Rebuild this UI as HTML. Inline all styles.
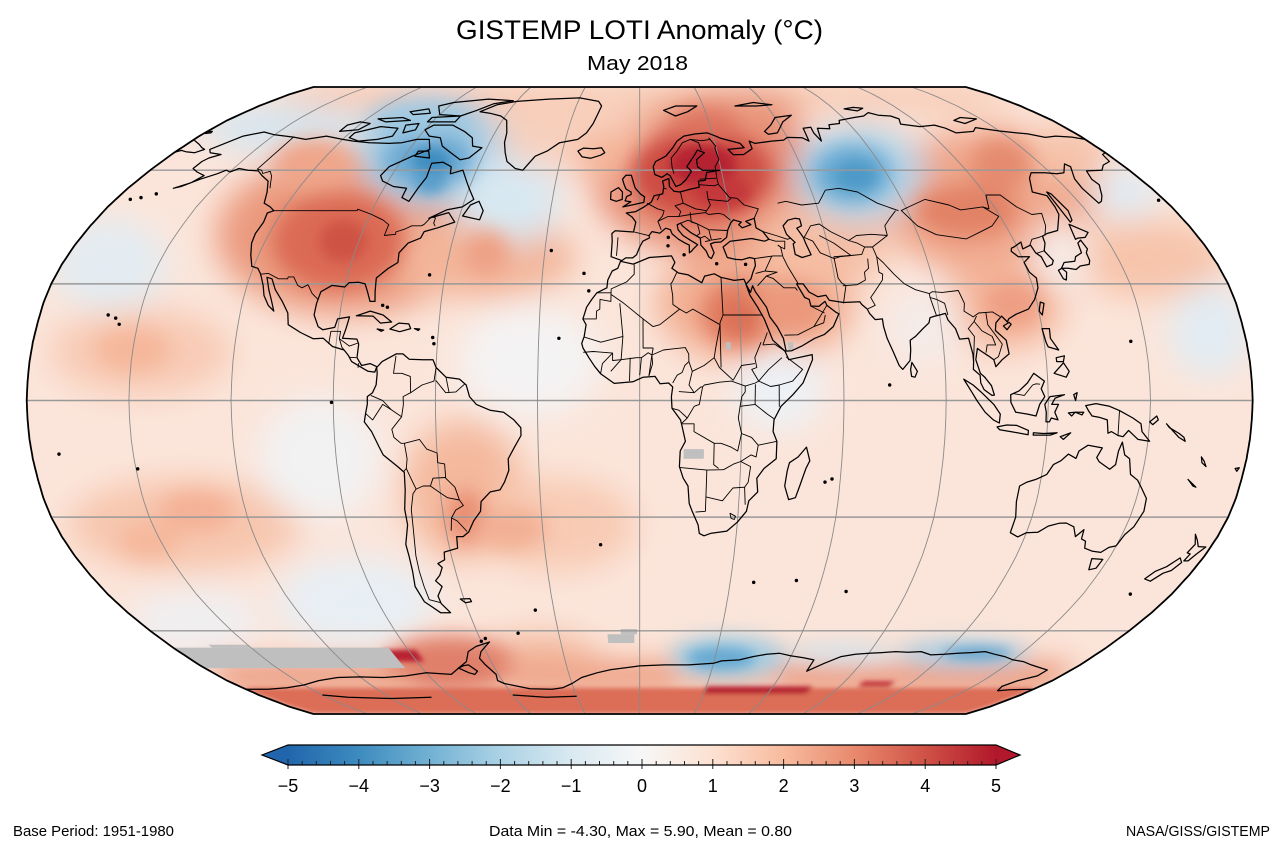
<!DOCTYPE html>
<html><head><meta charset="utf-8">
<style>
html,body{margin:0;padding:0;background:#fff;overflow:hidden;}
svg{display:block;}
text{font-family:"Liberation Sans",Arial,sans-serif;fill:#000;}
</style></head>
<body>
<svg id="s" width="1280" height="849" viewBox="0 0 1280 849" xmlns="http://www.w3.org/2000/svg">
<defs>
 <filter id="bL" filterUnits="userSpaceOnUse" x="0" y="0" width="1280" height="849"><feGaussianBlur stdDeviation="16"/></filter>
 <filter id="bM" filterUnits="userSpaceOnUse" x="0" y="0" width="1280" height="849"><feGaussianBlur stdDeviation="10"/></filter>
 <filter id="bS" filterUnits="userSpaceOnUse" x="0" y="0" width="1280" height="849"><feGaussianBlur stdDeviation="6"/></filter>
 <filter id="bX" filterUnits="userSpaceOnUse" x="0" y="0" width="1280" height="849"><feGaussianBlur stdDeviation="2.5"/></filter>
 <linearGradient id="cb" x1="0" x2="1" y1="0" y2="0">
  <stop offset="0" stop-color="#2166ac"/>
  <stop offset="0.1" stop-color="#3d8bbf"/>
  <stop offset="0.2" stop-color="#72b1d3"/>
  <stop offset="0.3" stop-color="#abd2e5"/>
  <stop offset="0.4" stop-color="#d9e9f1"/>
  <stop offset="0.5" stop-color="#f7f7f7"/>
  <stop offset="0.6" stop-color="#fce1d1"/>
  <stop offset="0.7" stop-color="#f8bb9e"/>
  <stop offset="0.8" stop-color="#e8896d"/>
  <stop offset="0.9" stop-color="#cf5246"/>
  <stop offset="1" stop-color="#b2182b"/>
 </linearGradient>
 <clipPath id="mc"><path id="mcp" d=""/></clipPath>
</defs>

<g clip-path="url(#mc)">
 <path id="base" fill="#fbe5da"/>
 <g id="gL" filter="url(#bL)"></g>
 <g id="gM" filter="url(#bM)"></g>
 <g id="gS" filter="url(#bS)"></g>
 <g id="gX" filter="url(#bX)"></g>
 <g id="gG" fill="#bfbfbf"></g>
 <g id="grid" fill="none"></g>
 <g id="bord" fill="none" stroke="#000" stroke-width="0.9" stroke-linejoin="round"></g>
 <g id="coast" fill="none" stroke="#000" stroke-width="1.25" stroke-linejoin="round"></g>
</g>
<path id="outline" fill="none" stroke="#000" stroke-width="1.8"/>

<!-- colorbar -->
<rect x="288" y="745" width="708" height="20" fill="url(#cb)"/>
<polygon points="288,745 262,755 288,765" fill="#2166ac"/>
<polygon points="996,745 1020,755 996,765" fill="#b2182b"/>
<g id="ticks" stroke="#222" stroke-width="1"></g>
<path d="M288,745 L996,745 L1020,755 L996,765 L288,765 L262,755 Z" fill="none" stroke="#000" stroke-width="1.2"/>
<g font-size="18" text-anchor="middle">
 <text x="288" y="792">−5</text>
 <text x="358.8" y="792">−4</text>
 <text x="429.6" y="792">−3</text>
 <text x="500.4" y="792">−2</text>
 <text x="571.2" y="792">−1</text>
 <text x="642" y="792">0</text>
 <text x="712.8" y="792">1</text>
 <text x="783.6" y="792">2</text>
 <text x="854.4" y="792">3</text>
 <text x="925.2" y="792">4</text>
 <text x="996" y="792">5</text>
</g>

<text x="456" y="39" font-size="27" textLength="367" lengthAdjust="spacingAndGlyphs">GISTEMP LOTI Anomaly (°C)</text>
<text x="587" y="70" font-size="20" textLength="101" lengthAdjust="spacingAndGlyphs">May 2018</text>
<text x="13" y="836" font-size="15" textLength="161" lengthAdjust="spacingAndGlyphs">Base Period: 1951-1980</text>
<text x="489" y="836" font-size="15" textLength="303" lengthAdjust="spacingAndGlyphs">Data Min = -4.30, Max = 5.90, Mean = 0.80</text>
<text x="1126" y="836" font-size="15" textLength="144" lengthAdjust="spacingAndGlyphs">NASA/GISS/GISTEMP</text>
</svg>

<script>
(function(){
var NS='http://www.w3.org/2000/svg';
var CX=639.7,W=613,CY=400.5,H=313.5;
var Xt=[1,0.9986,0.9954,0.99,0.9822,0.973,0.96,0.9427,0.9216,0.8962,0.8679,0.835,0.7986,0.7597,0.7186,0.6732,0.6213,0.5722,0.5322];
var Yt=[0,0.062,0.124,0.186,0.248,0.31,0.372,0.434,0.4958,0.5571,0.6176,0.6769,0.7346,0.7903,0.8435,0.8936,0.9394,0.9761,1];
function itp(t,a){a=Math.abs(a);if(a>90)a=90;var i=Math.min(Math.floor(a/5),17);var f=(a-i*5)/5;return t[i]+(t[i+1]-t[i])*f;}
function P(lon,lat){return [CX+W*itp(Xt,lat)*lon/180, CY-H*(lat<0?-1:1)*itp(Yt,lat)];}
function pathOf(pts,close){var d='';for(var i=0;i<pts.length;i++){var q=P(pts[i][0],pts[i][1]);d+=(i?'L':'M')+q[0].toFixed(1)+','+q[1].toFixed(1);}return d+(close?'Z':'');}
function add(gid,d,attrs){var e=document.createElementNS(NS,'path');e.setAttribute('d',d);if(attrs)for(var k in attrs)e.setAttribute(k,attrs[k]);document.getElementById(gid).appendChild(e);return e;}
function boxPts(l1,l2,a1,a2){var p=[],s=2,x,y;
 for(x=l1;x<l2;x+=s)p.push([x,a1]);
 for(y=a1;y<a2;y+=s)p.push([l2,y]);
 for(x=l2;x>l1;x-=s)p.push([x,a2]);
 for(y=a2;y>a1;y-=s)p.push([l1,y]);
 return p;}

// outline
var o=[],i;
for(i=90;i>=-90;i-=1)o.push([-180,i]);
for(i=-180;i<=180;i+=5)o.push([i,-90]);
for(i=-90;i<=90;i+=1)o.push([180,i]);
for(i=180;i>=-180;i-=5)o.push([i,90]);
var od=pathOf(o,true);
document.getElementById('mcp').setAttribute('d',od);
document.getElementById('base').setAttribute('d',od);
document.getElementById('outline').setAttribute('d',od);

// blobs [lon1,lon2,lat1,lat2,color,box?]
var L=[
[-180,180,79,90,'#f6c1a6',1],
[-130,-60,25,60,'#eb9a7e'],
[-75,-25,28,46,'#f3b59a'],
[-10,60,40,75,'#e68c73'],
[10,60,12,38,'#f2ae92'],
[40,75,30,50,'#f5bea4'],
[88,150,35,68,'#efa68a'],
[95,125,15,35,'#f4b69b'],
[140,180,28,45,'#f7c4ab'],
[-170,-125,3,22,'#f8cbb5'],
[-170,-110,-42,-22,'#f7c6ae'],
[-68,-38,-38,-8,'#f4b99e'],
[-45,-5,-42,-22,'#f8cbb4'],
[60,100,48,70,'#b3d4e8'],
[-105,-55,52,78,'#a4cce3'],
[-60,-30,42,62,'#d8e8f2'],
[-180,-120,66,79,'#d6e6f0'],
[-50,-15,-2,22,'#f4f3f3'],
[-120,-75,-62,-42,'#e8eff4'],
[-110,-80,-28,-2,'#f2f2f3'],
[30,52,-6,12,'#edf1f5'],
[160,180,8,28,'#e2ecf3'],
[160,180,48,60,'#e1ebf2'],
[-180,-150,25,45,'#e3ecf2'],
[-60,-20,-75,-62,'#f3b79c'],
[125,140,30,45,'#f6ece8'],
[-25,5,58,72,'#f4b59a'],
[-55,-25,62,80,'#f7d0bd'],
[20,70,72,85,'#e9967c'],
[150,180,58,72,'#f6c3aa'],
[75,95,10,28,'#f5ebe7'],
[-180,-140,-65,-50,'#f0eff1'],
[-180,180,-77,-69,'#efa68b',1]
];
var M=[
[-115,-78,30,52,'#db6a54'],
[-135,-108,55,68,'#efa68a'],
[-95,-65,56,70,'#6aa8d2'],
[-115,-75,70,80,'#9fc9e2'],
[-55,-42,33,43,'#eea084'],
[0,45,48,70,'#cd4c43'],
[15,40,68,78,'#dd725e'],
[20,40,15,30,'#e07c61'],
[35,55,18,30,'#eb987c'],
[65,90,52,66,'#65a7d1'],
[95,125,43,55,'#e28266'],
[125,145,55,68,'#e58b70'],
[105,120,20,30,'#ee9e83'],
[-160,-140,8,18,'#f5b79b'],
[-145,-125,-33,-24,'#f4b196'],
[-162,-145,-40,-32,'#f5b89c'],
[-58,-48,-36,-24,'#e88a6e'],
[-50,-30,-38,-28,'#f2b094'],
[-100,-55,-77,-62,'#e0806a'],
[15,55,-73,-62,'#a3cde3'],
[105,150,-70,-63,'#abd0e5'],
[60,100,-69,-64,'#d4e7f1'],
[60,180,-77,-71,'#eb9f84',1],
[-180,-100,-77,-71,'#ec9f84',1],
[-55,15,-77,-71,'#eea489',1]
];
var S=[
[-102,-88,36,46,'#cf5345'],
[-85,-72,59,66,'#3e8cc0'],
[-80,-70,54,60,'#5a9ecb'],
[12,35,56,67,'#b52430'],
[20,38,50,58,'#c4383a'],
[72,85,55,62,'#4e9ac8'],
[20,45,-71,-65,'#68a9d2'],
[120,145,-68,-65,'#5b9fcb'],
[25,35,18,25,'#db7258']
];
var X=[
[-180,180,-90,-77.5,'#dc6d56',1],
[30,78,-79.5,-77,'#b41d2d',1],
[98,112,-77,-75.2,'#bf2a34',1],
[-100,-87,-69,-65.5,'#b82330',1]
];
function blobs(list,g,sc){for(var i=0;i<list.length;i++){var b=list[i];
 if(b[5]){add(g,pathOf(boxPts(b[0],b[1],b[2],b[3]),true),{fill:b[4]});continue;}
 var c=P((b[0]+b[1])/2,(b[2]+b[3])/2),p1=P(b[0],b[2]),p2=P(b[1],b[3]);
 var p3=P(b[0],(b[2]+b[3])/2),p4=P(b[1],(b[2]+b[3])/2);
 var rx=Math.abs(p4[0]-p3[0])/2*sc, ry=Math.abs(p2[1]-p1[1])/2*sc;
 var e=document.createElementNS(NS,'ellipse');e.setAttribute('cx',c[0].toFixed(1));e.setAttribute('cy',c[1].toFixed(1));
 e.setAttribute('rx',rx.toFixed(1));e.setAttribute('ry',ry.toFixed(1));e.setAttribute('fill',b[4]);document.getElementById(g).appendChild(e);}}
blobs(L,'gL',1.2);blobs(M,'gM',1.15);blobs(S,'gS',1.1);blobs(X,'gX',1);
// gray missing data
var G=[[-180,-97,-71,-64.8],[-165,-150,-64.8,-64],[-12,-2,-63.5,-61],[-7,-1,-61,-59.5],[13,19,-15,-12.5],[25.5,27,13,15],[44,45.5,13,15]];
for(i=0;i<G.length;i++){var b=G[i];add('gG',pathOf(boxPts(b[0],b[1],b[2],b[3]),true));}

// grid
for(var lat=-60;lat<=60;lat+=30){var a=P(-180,lat),c=P(180,lat);add('grid','M'+a[0]+','+a[1]+'L'+c[0]+','+c[1],{stroke:'#999',"stroke-width":'1.4'});}
for(var lon=-150;lon<=150;lon+=30){var pts=[];for(var la=-90;la<=90;la+=2)pts.push([lon,la]);add('grid',pathOf(pts,false),{stroke:'#8a8a8a',"stroke-width":'0.9'});}

// coastlines
var C=[
[[-168,66],[-162,70],[-156,71.3],[-150,70.4],[-141,69.7],[-135,69],[-128,70],[-120,69],[-115,68.5],[-108,68],[-100,67.8],[-95,68],[-90,69],[-85,69],[-82,66],[-87,64],[-93,61],[-94,58.5],[-92,57],[-87,55.5],[-82,55],[-82,52.5],[-79,51.5],[-78,55],[-77,58],[-78,62],[-74,62.3],[-70,61],[-69,59],[-65,60],[-62,57],[-60,55],[-57,52],[-60,50],[-65,49.2],[-70,47],[-64,48.5],[-61,46],[-66,44.5],[-70,43.5],[-70.5,41.8],[-74,40.5],[-76,38],[-75.5,35.5],[-78,34],[-81,31.5],[-80.5,28],[-80,25.5],[-81.5,25.5],[-82.8,28],[-84,30],[-86,30.4],[-89,30.3],[-90,29.2],[-94,29.6],[-97,28],[-97.5,25],[-97.7,22],[-96,19],[-94.5,18.2],[-91,18.8],[-90.5,21],[-87,21.5],[-87.6,18.5],[-88.3,16],[-84,15.8],[-83.3,14.5],[-83.5,11],[-82,9],[-79.5,9.5],[-77.5,8.7],[-78,7.3],[-80,7.5],[-81,8],[-85,10],[-86,11.5],[-87.5,13],[-91,13.9],[-94,16],[-97,15.9],[-101,17.5],[-105,19.5],[-105.7,22.5],[-108,25.5],[-111,28.5],[-113,31.3],[-114.7,31.7],[-113,28.5],[-111.5,26],[-110,23],[-112,24.5],[-114,27],[-115,29.5],[-116.5,31.8],[-117.2,32.7],[-118.5,34],[-120.6,34.5],[-122.5,37.5],[-124,40.5],[-124.5,43],[-124,46],[-124.7,48.4],[-123,49],[-125,50],[-128,51],[-130,54],[-133,57],[-137,58.5],[-140,59.8],[-144,60],[-148,60.5],[-150,59.5],[-152,60],[-154,59],[-158,57.5],[-162,55.5],[-164,55],[-160,56.5],[-158,58.5],[-162,59.5],[-165,60.5],[-165,62.5],[-164,63.5],[-161,64.5],[-166,65],[-168,66]],
[[-73,78],[-68,80.5],[-60,82],[-45,83],[-30,83.5],[-20,82],[-18,80],[-19,77],[-20,74],[-22,71],[-25,69],[-32,68],[-36,65.5],[-40,64],[-43,60],[-46,60.5],[-50,62.5],[-52,65],[-54,68],[-55,71],[-58,75],[-62,76.5],[-68,77.5],[-73,78]],
[[-62,66.5],[-66,67],[-68,69.5],[-73,71.5],[-80,73.5],[-88,73.5],[-90,72],[-86,70],[-81,69.5],[-78,67],[-73,65],[-68,63],[-65,63.5],[-62,66.5]],
[[-118,71],[-110,73],[-102,72.5],[-101,70],[-106,69],[-113,68.5],[-118,69.5],[-118,71]],
[[-90,77],[-80,76.5],[-75,78.5],[-70,81],[-62,82.3],[-75,83],[-90,81.5],[-95,80],[-90,77]],
[[-125,71.5],[-118,72],[-116,74],[-121,74.5],[-125,73.5],[-125,71.5]],
[[-92,76],[-80,76.5],[-80,74.5],[-92,74.5],[-92,76]],
[[-115,75.5],[-105,76],[-100,75],[-110,74.5],[-115,75.5]],
[[-105,78],[-98,79],[-95,77.5],[-102,77],[-105,78]],
[[-100,73.5],[-95,74],[-94,72],[-98,71],[-100,73.5]],
[[-86,64],[-80,63.5],[-82,65.5],[-86,65.5],[-86,64]],
[[-59,47.6],[-53,46.6],[-52.6,49],[-55,51.5],[-57.5,50.5],[-59,47.6]],
[[-85,21.8],[-81,23],[-77,22],[-74.2,20.2],[-77.5,19.9],[-80,21.7],[-85,21.8]],
[[-74.5,18.4],[-72,19.9],[-69,19.7],[-68.3,18.5],[-71.5,17.7],[-74.5,18.4]],
[[-78.3,18.4],[-76.3,18.1],[-77,17.8],[-78.3,18.4]],
[[-67.2,18.5],[-65.6,18.4],[-66,18],[-67.2,18.5]],
[[-77.5,8.5],[-76,10],[-72,12],[-70,12],[-68,10.6],[-64,10.5],[-61,10.5],[-60,8.5],[-57,6],[-53,5.5],[-51,4],[-50,1],[-48,-1],[-44,-2.5],[-40,-3],[-37,-5],[-35,-7],[-35,-9],[-37,-12],[-39,-15],[-39,-18],[-40.5,-21],[-42,-23],[-45,-23.5],[-48,-26],[-48.5,-28.5],[-51,-31],[-53,-33.8],[-55,-35],[-57,-35],[-57.5,-38],[-62,-39],[-62.5,-41],[-65,-42],[-64,-43],[-65.5,-45],[-67.5,-46.5],[-66,-48],[-68.5,-50.5],[-68.5,-52.5],[-66.5,-55],[-70,-55],[-72,-53.5],[-74,-52],[-75,-48],[-74,-44],[-73.5,-40],[-73.5,-37],[-71.5,-32],[-71.5,-28],[-70.5,-23],[-70.2,-18.5],[-72,-17],[-76,-14],[-77,-12],[-79,-8],[-81,-5.5],[-80.5,-3],[-80,-1],[-80,1],[-78.5,2],[-77.5,4],[-77.3,7],[-77.5,8.5]],
[[-61.3,-51.3],[-58,-51.2],[-57.8,-52],[-60,-52.3],[-61.3,-51.3]],
[[-6,35.8],[-2,35.1],[3,36.8],[10,37.2],[11,35.5],[10,34],[12,32.8],[15,32.3],[19,30.3],[20,32],[23,32.6],[25,31.7],[29,30.9],[32,31.2],[32.5,30],[32.6,29.5],[33.5,27],[35.5,24],[37.3,21],[38.5,18],[39.5,15.5],[43,12.7],[44,10.5],[51,11.8],[51,10.5],[48,4.5],[45,1.5],[41.5,-1.5],[39.5,-5],[39.3,-8],[40.5,-10.5],[40.5,-15],[37,-17.5],[35,-20],[35.5,-23.5],[33,-25.8],[32.5,-28.5],[30,-31.3],[27,-33.6],[22,-34.2],[20,-34.8],[18.5,-34.2],[18,-32],[16,-28.5],[15,-26.5],[14.5,-22],[13,-20],[11.8,-17],[12,-13],[13.5,-10.5],[12.3,-6],[12,-5],[9.5,-2],[9.3,1],[9.7,3.5],[8.5,4.5],[6,4.3],[4.5,6.2],[1,6],[-2,4.8],[-7.5,4.4],[-11.5,6.9],[-13.3,8.8],[-15,11],[-16.8,13.5],[-17.2,14.7],[-16.5,16.5],[-16,19.5],[-17,21],[-16,24],[-14.5,26],[-13,27.7],[-10,29],[-9.8,31],[-8.5,33.3],[-6.8,34],[-6,35.8]],
[[49.3,-12],[50.5,-15.5],[49.5,-17.5],[48,-22],[47,-25],[45,-25.5],[43.5,-22],[44,-18],[44.5,-16],[47,-14.5],[49.3,-12]],
[[-5.6,36],[-9,37],[-8.8,41],[-9,43],[-8,43.7],[-2,43.4],[-1.3,46],[-2.5,47.3],[-4.5,48.4],[-1.5,48.7],[1.5,50],[4,51.3],[5,53],[8,53.5],[8.5,55.5],[8.2,57],[10.5,57.7],[10.5,55.5],[12,54.2],[14,54],[18,54.8],[21,55.3],[21,57],[23.5,57.2],[24.5,59.4],[29.5,60],[23,60],[21.5,61],[21.5,63],[25,65],[22.5,65.8],[21,64.3],[17.5,61],[19,59.7],[16.5,57.3],[14.5,56],[12.8,55.5],[11,58.5],[10,59],[8,58],[5.5,58.8],[5,61],[6,62.5],[10,64],[13,66.5],[15,68.5],[18,70],[23,70.7],[28,71],[31,70],[33,69.3],[40,67.8],[41,66.5],[34.5,66],[36,64.4],[40,64.5],[44,66.2],[44,68.5],[46,67.8],[53,68.5],[58,68.8],[60,69.6],[66,69.5],[68,68.5],[69,72.5],[72.5,72.8],[72,71],[73,68.5],[75,72.5],[80,72.3],[81,73.6],[86,74],[87,75],[95,76],[100,76.5],[104,77.7],[107,76.8],[112,76.5],[114,75.5],[112,73.8],[119,73],[126,73.5],[129,72.5],[131,71],[139,71.5],[142,72.7],[150,71.6],[156,71],[160,70.7],[165,69.6],[170,70],[176,69.7],[180,69],[180,65],[178,64.5],[177,62.5],[173,61.5],[170,60],[164,59.8],[162.5,57.5],[163,56],[160,53],[158,51.5],[156.5,51],[155.6,55],[156.5,57.6],[160,61],[159,61.8],[155,59.3],[152,59],[148,59.3],[143,59.3],[140.5,57.8],[137,54],[141,53],[140.5,50],[140,48],[136,43.8],[132,43],[130,42.3],[129.5,40.5],[128,38.5],[129.4,36],[128.5,35],[126.5,34.4],[126.2,37],[125,38],[124.5,40],[121.5,39],[122,40.8],[119,39.5],[118,39.2],[117.5,38.4],[119,37],[122.5,37],[120,35.5],[120.5,33],[122,31.5],[121.5,29],[119.5,26],[117,23.5],[113,22.2],[110.5,21],[110,20.2],[108.5,21.7],[106.5,20],[106,18],[108.8,15.5],[109.2,12],[107,10.5],[105,8.7],[104.5,10.5],[103,11.5],[101,12.7],[100,13.4],[99.2,10.5],[100.3,7],[101.5,6],[103.4,3.8],[104.2,1.4],[103.5,1.3],[101.2,2.8],[100.3,4.5],[100.2,6.5],[98.3,8],[98.5,10],[98.5,12],[97.7,16],[95,15.8],[94.2,18.5],[92.3,20.7],[91.8,22.4],[90,22],[88.5,21.7],[87,21.3],[86.5,20],[84.5,18.5],[82,16.5],[80.3,15.5],[80.2,13],[79.8,10.3],[77.5,8],[76.5,9],[75,12.5],[73.5,16],[72.8,19],[72.7,21],[70.5,20.8],[69,22.4],[68.5,23.5],[67,24.7],[66.5,25.4],[61.5,25.2],[57.3,25.8],[56.5,27.1],[54,26.7],[51.5,27.9],[50,30],[48,30],[50,26.5],[51.3,26],[51.6,24.3],[54,24.2],[56,25.5],[56.4,24.5],[58.8,22.8],[59.8,22.3],[57.8,19],[55,17],[52,16],[48,14],[45,12.8],[43.3,12.7],[42.7,16],[41,19],[39,21.5],[38.2,24],[35.2,28],[34.5,29.5],[33.7,27.8],[32.5,29.9],[34.2,31.3],[35,33],[36,34.7],[36,36.5],[34.5,36.8],[32,36.2],[30,36.3],[27.5,36.8],[26.5,39.5],[29,41],[31,41.2],[36,41.7],[40,41],[41.5,41.5],[40,43.5],[38,44.5],[38,47],[35,46.2],[36.5,45.3],[33.5,44.5],[32.5,45.3],[33.5,46],[31,46.6],[30,45.8],[28.7,44],[28,42],[26,40.8],[24,40.7],[22.6,40.3],[23.5,38],[22.5,36.5],[21.7,37],[21,38.5],[19.5,40],[19.5,41.8],[16.5,43.3],[14,45],[13.5,45.7],[12.3,45.3],[12.5,44],[14,42.5],[16,41.4],[18.5,40.1],[17,39],[16.5,38.5],[15.7,38],[15.8,40],[14.5,40.5],[12.5,41.5],[10.5,42.9],[10,44],[8.5,44.4],[6.5,43.1],[4,43.5],[3,42.5],[3.2,41.9],[1,41],[0,39.5],[-0.5,38.5],[-1,37.5],[-2.2,36.7],[-4.4,36.7],[-5.6,36]],
[[-180,68.9],[-175,67.5],[-172,66.5],[-170,66],[-172,65],[-176,65.3],[-178.5,65.7],[-180,65.2]],
[[47,45],[49,46.5],[51.5,47],[53,46.8],[53,45],[51.3,44.4],[52.7,42],[53,40.5],[54,37.5],[51,36.8],[49,37.6],[49,40.3],[49.7,40.7],[47.5,42.8],[47,45]],
[[-5.7,50],[1.4,51.2],[1.7,52.7],[0.3,53.4],[-1.5,55],[-2,56],[-3,58.6],[-5,58.6],[-6.2,57.5],[-5.5,56],[-4.8,54.8],[-3,54],[-3,53.3],[-4.5,52.8],[-5,51.6],[-3,51.4],[-5.7,50]],
[[-6,52],[-6,54],[-7.5,55.2],[-10,54],[-10,52],[-8,51.5],[-6,52]],
[[-24,65.5],[-22,66.4],[-18,66.2],[-15,66.5],[-13.5,65],[-15,64.3],[-18.7,63.4],[-22,63.8],[-24,65.5]],
[[11,78.5],[17,80],[27,80],[22,78],[16,76.5],[11,78.5]],
[[52,71.5],[56,73.5],[60,76],[68,76.8],[62,74.5],[57,71],[53,70.6],[52,71.5]],
[[45,80],[55,81.5],[63,80.5],[55,80],[45,80]],
[[95,79],[100,79.5],[104,79.2],[100,78.3],[95,79]],
[[137,75],[142,76],[148,75.5],[140,74],[137,75]],
[[-180,71.3],[-178,71.5],[-177.5,71],[-179.5,70.8]],
[[130.9,34],[132.5,35.5],[136,35.8],[137,37],[139.5,38],[140,40.5],[141.5,41.3],[142,39],[141,38],[140.8,36],[140,35],[137,34.6],[135.3,33.7],[133,34],[130.9,34]],
[[140,41.5],[141,45.4],[145.5,43.3],[143.5,42],[141,41.8],[140,41.5]],
[[129.7,33.5],[131,34],[132,33],[131,31],[130.2,31.3],[129.7,33.5]],
[[142,46],[142,54],[143,53.5],[144,49],[143,46.5],[142,46]],
[[120.1,23],[121,25.3],[122,25],[120.8,22],[120.1,23]],
[[108.6,19.2],[110.5,20.1],[111,19.6],[109.5,18.2],[108.6,19.2]],
[[79.8,8],[80.3,9.8],[81.8,7.5],[81,6],[80,6.2],[79.8,8]],
[[120,18.5],[122.2,18.5],[122,16],[124,13],[121,13.8],[120.5,15],[120,18.5]],
[[122,7],[125,9.7],[126.5,7.5],[125.5,6],[122,7]],
[[123,11],[125.5,11.5],[125,10],[123,10],[123,11]],
[[109,1.5],[111.5,2.5],[114,4.5],[116,7],[119,5],[118,3],[119,1],[117.5,-1],[116.5,-4],[114,-3.5],[110.5,-3],[109,-0.5],[109,1.5]],
[[95.3,5.5],[98,4],[100.5,2],[104,-1],[106,-3.5],[105.8,-5.8],[104,-5],[101.5,-3],[99,0],[97.5,2.3],[95.3,5.5]],
[[105.2,-6.8],[108,-6.3],[111,-6.4],[114.5,-7.7],[114.5,-8.8],[110,-8.1],[106,-7.5],[105.2,-6.8]],
[[116,-8.3],[119,-8.5],[123,-8.3],[121,-8.9],[116,-8.9],[116,-8.3]],
[[124,-9.3],[127,-8.3],[125,-10],[124,-9.3]],
[[119.5,-5.5],[119.5,-3],[119,-1],[120.5,1],[124.8,1.5],[122,0.6],[121,-1],[123,-1],[122,-3],[123,-5],[121,-4.5],[120.5,-5.5],[119.5,-5.5]],
[[127.5,1.5],[128.5,2],[128,0],[127.5,1.5]],
[[126,-3.2],[128,-3],[127,-4],[126,-3.2]],
[[128,-3],[130.5,-3],[130,-3.7],[128,-3]],
[[131,-1.3],[134,-0.8],[138,-1.5],[141,-2.6],[145,-4.5],[147.5,-6],[148,-8],[150.5,-10.5],[147,-10],[144,-7.7],[142.5,-9.3],[141,-9],[139,-8],[138,-8.4],[137.5,-5],[135,-4.3],[133,-4],[132,-2.8],[131,-1.3]],
[[150,-5.5],[152,-4],[152.5,-5],[151,-6.2],[150,-5.5]],
[[155,-6],[156,-7],[159,-8.5],[160.5,-9.5],[161,-10.5],[159,-9.5],[155,-6]],
[[114,-22],[114,-26],[115,-30],[115,-34],[117.8,-35.1],[120,-34],[123.5,-33.9],[126,-32.3],[129,-31.6],[131.2,-31.5],[134,-32.5],[135.7,-35],[137.5,-33.2],[138,-35.6],[139.6,-36.2],[140.5,-38],[143.5,-38.8],[146.3,-39.1],[148,-37.8],[150,-37.4],[150.8,-34.5],[152.5,-32.5],[153.6,-28.5],[153,-25.2],[150.8,-22.6],[149,-20.5],[146.5,-19],[145.3,-15],[143.7,-14],[142.5,-10.7],[141.7,-13],[141.5,-16.5],[140,-17.7],[136.5,-15.8],[135.5,-14.7],[136.8,-12.2],[132.5,-11.5],[130,-13],[129.4,-14.9],[127,-13.8],[125,-15.5],[123,-16.5],[121.5,-19],[118.5,-20.3],[116,-21],[114,-22]],
[[144.6,-40.7],[148.3,-40.9],[148,-43.2],[146,-43.6],[144.6,-40.7]],
[[172.7,-34.4],[174.5,-36],[176,-37.6],[178.5,-37.7],[177,-39.5],[176,-41.3],[174.6,-41.3],[175,-39.5],[173.8,-39.2],[174.6,-37],[172.7,-34.4]],
[[172.7,-40.5],[174.3,-41.7],[173,-43.8],[171,-44.5],[169,-46.6],[166.5,-46],[168,-44],[170.5,-42.8],[172.7,-40.5]],
[[164,-20.3],[167,-22.3],[166,-22],[164,-20.3]],
[[177.3,-17.5],[178.5,-17.3],[178,-18.2],[177.3,-17.5]],
[[166.5,-14.5],[167.5,-15.5],[168.5,-17],[167,-16],[166.5,-14.5]],
[[-180,-78],[-170,-78],[-160,-77.5],[-150,-76.5],[-140,-75],[-130,-74],[-120,-73.8],[-110,-74],[-100,-73.5],[-90,-72.5],[-80,-73],[-75,-71],[-70,-69],[-67,-66],[-63,-64.5],[-57,-63.2],[-59,-64.3],[-62,-66],[-64,-68],[-63,-70],[-61,-73],[-62,-75],[-60,-76],[-50,-77.8],[-40,-78],[-35,-77.5],[-30,-76],[-25,-74],[-18,-72.5],[-12,-71.5],[-5,-70.8],[0,-70.3],[10,-70],[20,-70],[30,-69.5],[33,-68.8],[40,-68.5],[45,-67.5],[50,-66.8],[55,-66.5],[60,-67.3],[65,-67.8],[70,-68.5],[70,-72],[75,-69.5],[80,-67.5],[85,-66.8],[90,-66.5],[95,-66.3],[100,-66],[105,-66.2],[110,-66],[115,-67],[120,-66.8],[125,-66.5],[130,-66.3],[135,-66],[140,-66.8],[145,-67.5],[150,-68.5],[155,-69],[160,-70],[165,-70.8],[170,-71.6],[170,-73.5],[165,-75],[163,-77],[165,-78.5],[170,-78.2],[180,-78]],
[[-75,-71],[-72,-72.5],[-70,-73],[-68,-72],[-70,-70],[-72,-70.2],[-75,-71]],
[[-150,-80],[-140,-81],[-120,-81.5],[-100,-81]],
[[-60,-80],[-45,-81],[-30,-80.5]]
];
for(i=0;i<C.length;i++){var pts=C[i];var f=pts[0],l=pts[pts.length-1];add('coast',pathOf(pts,f[0]===l[0]&&f[1]===l[1]));}
var D=[[-155.5,19.6],[-157,21.2],[-159.5,22],[-15.5,28.2],[-24,16],[-28,38.6],[-90.5,-0.5],[-172,-13.8],[-149.5,-17.6],[145.7,15.2],[-175,52],[-172,52.5],[-168,53.5],[178,51.8],[57.5,-20.2],[55.5,-21],[69.5,-49.3],[-36.5,-54.3],[-12.3,-37.1],[-60,-63],[-58,-62.2],[-45,-60.7],[166,-50],[37.8,-46.9],[51.8,-46.4],[73.5,4],[-61,14.6],[-61.5,16.2],[-64.8,32.3],[-77.5,24.5],[-76,24],[-17.2,32.7],[9,39.8],[9.2,42],[14,37.5],[24,35.2],[33,35]];
for(i=0;i<D.length;i++){var q=P(D[i][0],D[i][1]);var e=document.createElementNS(NS,'circle');e.setAttribute('cx',q[0].toFixed(1));e.setAttribute('cy',q[1].toFixed(1));e.setAttribute('r','1.1');e.setAttribute('fill','#000');document.getElementById('coast').appendChild(e);}

var B=[
[[-123.3,49],[-95,49],[-95,49.4],[-89.5,48],[-84.8,46.5],[-82.4,45.3],[-82.5,42.5],[-79,42.8],[-79.2,43.4],[-76.5,44.2],[-74.7,45],[-71.5,45],[-70.8,45.4],[-69.2,47.4],[-67.8,47.1],[-67.8,45.7],[-67,44.9]],
[[-141,69.6],[-141,60.3],[-139,60],[-137.5,59.1],[-135.5,59.7],[-133.4,58.4],[-131,56],[-130,55]],
[[-117.1,32.5],[-114.7,32.7],[-111,31.3],[-108.2,31.3],[-108.2,31.8],[-106.5,31.8],[-104.5,29.6],[-103,29],[-101.4,29.8],[-99.5,27.5],[-97.2,25.9]],
[[-92.2,14.5],[-92,17.8],[-89.1,17.8],[-89.2,15.9],[-88.2,13.7],[-87.5,13]],
[[-89.2,15.9],[-86,14],[-83.5,14.8]],[[-85.7,11.1],[-83.7,11]],[[-83,8.4],[-82.9,9.6]],
[[-72,11.5],[-72.5,7],[-70,7],[-67.5,6.2],[-67.3,2],[-69.5,1],[-69.4,-1],[-70,-4.2],[-73,-7.4],[-72.5,-9.5],[-70.5,-11],[-69.5,-11],[-65,-10],[-63,-12.5],[-60,-13.5],[-60,-16],[-58,-16.3],[-58,-20],[-55.5,-22.3],[-54.5,-25.6],[-53.5,-27],[-56,-28.2],[-57.6,-30.2],[-56,-31],[-53.5,-33.7]],
[[-60,8.5],[-60.5,5],[-64,4],[-67.3,2]],[[-60,5.2],[-57,2],[-54,2.2],[-51.5,4.2]],[[-57,6],[-56,2]],
[[-68.5,-52.3],[-72,-51.5],[-72,-48],[-71.8,-44],[-71.3,-40],[-70.5,-36],[-70,-33],[-69.5,-28],[-68.3,-24],[-67.2,-22.8],[-68,-21],[-69.5,-17.5],[-70.4,-18.3]],
[[-69.5,-17.5],[-69,-15],[-69.5,-11]],
[[-67.2,-22.8],[-65,-22],[-62.8,-22],[-61.8,-20],[-58,-19.8]],
[[-62.8,-22],[-60,-23.8],[-58,-25],[-54.5,-25.6]],
[[-80.5,-3.4],[-78.5,-5],[-75.5,-1],[-73,-2.4],[-70,-4.2]],[[-79,1.3],[-75.5,0],[-73,-2.4]],
[[-58.4,-33.5],[-57.6,-30.2]],
[[25,31.6],[25,22],[36.9,22]],[[25,22],[24,20],[24,19.5],[16,23.5],[14,22.5],[12,23.5],[10,24.7],[10,27],[9.5,30],[10,30.5],[11.5,33]],
[[-8.7,27.3],[-4.8,25],[1,21],[4,19],[6,19.5],[12,23.5]],
[[-1.7,35],[-1.7,32.5],[-4,30.5],[-8.7,28.7],[-8.7,27.3],[-8.7,25.5],[-12,26],[-12,23.5],[-13,23],[-13,21],[-17,21]],
[[-13,27.7],[-8.7,27.7]],[[-6,25],[-5,16.5],[-11.5,15],[-16.5,16.3]],
[[-5,16.5],[-5.5,10.5],[-8,10.3],[-8,12.2],[-12.2,12.5],[-13.7,12.6],[-16.7,12.4]],
[[-8.5,7.5],[-5.5,10.5],[-1,11],[0.5,11],[2.5,12.3],[3.6,11.7],[3.8,9.5],[2.7,6.3]],
[[-11.5,6.9],[-11,9.5],[-8,12.2]],[[0.5,11],[0,6.5]],[[-3,5],[-2.8,11]],
[[2.7,6.3],[3.6,11.7],[7,13],[10,13.3],[13.5,13.6],[14.5,12],[14.5,10],[13.3,9],[12.5,7.2],[11,6.5],[9.7,4.5]],
[[4,13.5],[3.6,11.7]],[[1,21],[1,13.5],[4,13.5]],
[[14.5,10],[15.5,7.5],[14.5,4],[16,2],[18,3.5],[18.5,3.5],[19,4],[23.5,4.7],[27,5],[31,3.7],[34,4.5],[35,5],[38,8],[42,11]],
[[15.5,7.5],[19,9],[22,11],[22.5,13.5],[24,19.5]],[[22,11],[23.5,8.5],[27.5,5.2]],
[[24,19.5],[24,8.5]],[[27.5,5.2],[30,9],[34,9.5]],
[[36,15],[34,11],[34.5,8.5],[33,8],[35,5],[38.5,3.6],[41,4],[45,5],[48,8],[43.3,11.2]],
[[41,-1.6],[41,4]],[[36.5,14.3],[38,17.5]],[[36.5,14.3],[40,14.5],[43,12.7]],
[[12.2,-6],[16,-6],[16,-8],[22,-11],[24,-11],[27,-12],[29,-13],[30,-8.5],[29,-4.5],[29.5,-1.5],[30,1],[31,2.2],[31,3.7]],
[[16,-1.5],[17.5,-1],[18.5,3.5]],[[14,-4.5],[16,-1.5]],[[9.5,-2],[11.5,-2.5],[14,-4.5],[12.2,-6]],[[11.5,2.3],[16,2]],
[[29.5,-1.5],[33.9,-1],[34,4.2]],[[33.9,-1],[37.5,-3.5],[39.5,-4.7]],[[30,-8.5],[33,-9.5],[35,-11.5],[40.5,-10.5]],
[[11.8,-17.2],[20,-17.9],[25,-17.8]],[[22,-11],[22,-13],[22,-16.5],[23.5,-17.5]],
[[20,-18],[20,-22],[20,-28.5],[17,-28.7]],[[20,-24.8],[25,-25.8],[28,-22.5],[31.5,-22.3],[32,-26.8]],
[[25,-17.8],[28,-16.3],[30,-15.7],[33,-17],[32.5,-21],[31.5,-22.3]],
[[35,-11.5],[34.5,-14.5],[33,-14],[30,-15.7]],[[27.5,-29],[29.3,-29.8],[29,-30.6],[28,-30.3],[27.5,-29]],
[[-1.8,43.4],[3.2,42.4]],[[-7,42],[-7.3,37.2]],[[2.5,51],[6,49.5],[8.2,49],[7.6,47.6],[6,46.2],[7,44]],
[[6,51.8],[7,53.3]],[[8.5,55],[9.5,54.8]],[[14.2,54],[14.8,51],[12,50.3],[13.8,48.8],[13,47.5],[9.5,47.5],[6,46.2]],
[[13,47.5],[17,48],[22,48.5],[22.5,49]],[[14.8,51],[18.8,49.5],[22.5,49]],[[16.9,48.6],[17,46],[19,45.5],[22.5,44],[28.5,43.8]],
[[13.5,45.7],[16,46.5],[19,45.5]],[[22,48.5],[23,48],[26.5,48.3],[28,48],[30,46.5]],[[22.5,44],[23,41.3],[26.3,41.7]],
[[19.5,41.8],[21,42.3],[22.6,41.2],[20.9,40.9]],[[19,45.5],[19.5,43],[18.5,42.5]],
[[23.5,54.3],[23.5,52],[24,50.5],[22.5,49]],[[23.5,52],[30,51.5],[31.5,52.3]],[[21,56],[26.5,55.7],[28,56.2]],[[21.5,57.5],[27.5,57.8]],
[[28,69.5],[30,67],[29.5,66.5],[30,63],[28,61],[27.8,57.5],[28,56],[31,52.5],[33.5,52.3],[35.5,50.5],[40,49.5],[38,47]],
[[12.5,59],[12,61],[12,63.5],[14.5,65.5],[17,68],[20.5,69],[25,68.6],[28.5,69]],[[24,65.8],[23.5,68],[20.5,69]],
[[40,43.5],[44,42.5],[47.5,41.5],[48.5,41.8]],[[41.5,41.5],[43.5,41],[46.5,41],[46,39],[44.8,39.5],[44,40]],
[[44,40],[44.8,39.5],[45,37],[46,34.5],[48.5,30]],[[36,36.5],[42,37.2],[44.8,37.2]],
[[36,29.5],[39,32],[41,31.4],[44,29],[47.5,29],[48,28.3]],[[38.8,33.3],[42.5,33],[39,32]],[[35.8,32.7],[38.8,33.3],[41.5,37.1]],
[[43,16.8],[47,16.9],[52,19],[55,20],[55.7,22]],[[52,19],[55,22.7],[56.4,24.5]],[[51.5,24.3],[55.5,22.5]],
[[47,51],[50,51.5],[55,50.5],[61,51],[65,54.5],[70,55],[76,54],[81,51],[87,49]],
[[53,42],[56,45],[59,45.5],[62,43.5],[67,41.2],[70,42.5],[75,42.8],[80,42.5],[80.3,45],[83,47],[86,49]],
[[53,42],[55.5,41],[57,38],[61,36.5],[63,37],[66.5,37.3]],[[58,42.5],[62,40.5],[66.5,37.3],[70,37.6],[71.5,39.5],[74,39.5]],
[[67,41.2],[69.5,40.5],[71.5,39.5]],
[[87.8,49],[91,50],[98,52],[105,50.5],[108,49.2],[116,50],[119.5,47.5],[115.5,45],[111.5,43.7],[105,41.6],[96,42.7],[91,45],[88,49]],
[[74.5,37],[76,35.5],[78.5,32.5],[81,30],[84,28.5],[88,27.5],[89,28],[92,27.8],[97,28.3],[98,25],[97.5,23],[100,21.5],[101.8,22.5],[106,22.8],[108,21.6]],
[[80,42.5],[74,39.5],[74.5,37]],[[88,27.5],[88,26.5],[89.8,26],[92,25],[92.5,22]],[[88,26.5],[88.5,24],[89,22]],
[[120,53.2],[125,53.2],[127.5,50],[131,48],[134.5,48.3],[133,45],[131,42.6]],[[116,50],[117.8,49.5],[120,53.2]],
[[61,37],[61,31.5],[61.8,30.3],[63,29.5],[61.5,25]],[[61,37],[66.5,37.3]],[[71.5,36.5],[71,34],[69.5,33],[69.3,31],[66.5,29.8],[62,29.5]],
[[74.5,37],[74,33],[75,32.5],[74.5,31],[71.5,28],[70,26.5],[71,24.5],[68.5,23.5]],
[[98.5,10],[99.5,16.5],[98,18.5],[100,20.3],[101,21.7]],[[100.1,20.3],[102,17.9],[104.8,16.5],[105.5,14.3],[103,14.3],[102.4,12.3]],
[[104,22.8],[104,19.5],[107.5,14.5],[106,11.3],[104.5,10.5]],[[125,37.8],[128.3,38.6]],[[124.3,40],[126,41.5],[128.5,42],[130.6,42.5]],
[[101,6.5],[101.8,5.8]],[[109.6,1.8],[113,1.3],[115.5,4],[116.5,4.3],[117.7,4.2]],[[141,-2.6],[141,-9]],[[124.9,-9.2],[125.1,-8.9]]
];
for(i=0;i<B.length;i++)add('bord',pathOf(B[i],false));

var tk=document.getElementById('ticks'),d='';
for(i=0;i<=50;i++){var x=288+i*708/50;var maj=(i%5===0);d+='M'+x.toFixed(1)+','+(maj?759:761)+'L'+x.toFixed(1)+','+(maj?769:765);}
var tp=document.createElementNS(NS,'path');tp.setAttribute('d',d);tk.appendChild(tp);
})();
</script>
</body></html>
